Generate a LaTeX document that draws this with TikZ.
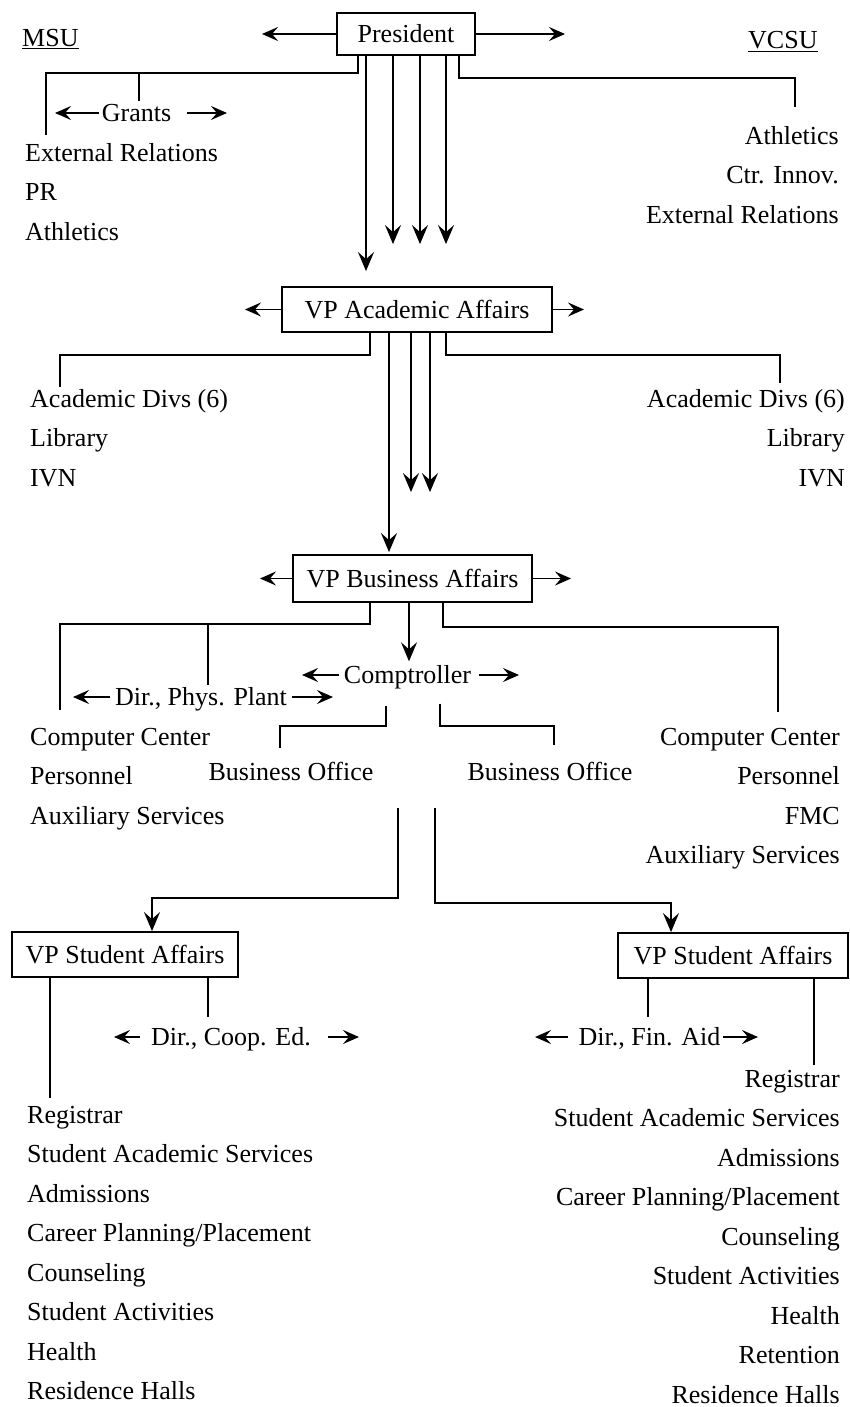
\documentclass[tikz,border=0pt]{standalone}
\usepackage{fontspec}
\setmainfont{Liberation Serif}
\usepackage{tikz}
\usetikzlibrary{arrows.meta}
\usetikzlibrary{positioning}
\tikzstyle{box} = [
    draw=black,
    line width=1.8pt,
    inner sep=0pt,
    text height=18pt,
    text depth=1pt,
    font=\fontsize{26}{30}\selectfont
]
\tikzstyle{unit} = [
    inner sep=2pt, % keeps the side arrows close to the words
    text height=18pt,
    text depth=1pt,
    font=\fontsize{26}{30}\selectfont
]
\tikzstyle{listL} = [
    inner sep=0pt,
    align=left,
    font=\fontsize{26}{39.5}\selectfont
]
\tikzstyle{listR} = [
    inner sep=0pt,
    align=right,
    font=\fontsize{26}{39.5}\selectfont
]
\tikzstyle{conn} = [line width=1.9pt]
\tikzstyle{arrowdown} = [
    line width=1.9pt,
    -{Stealth[length=19pt, width=16pt, inset=7pt]}
]
\tikzstyle{arrowside} = [
    line width=1.9pt,
    -{Stealth[length=16pt, width=14pt, inset=6pt]}
]

\begin{document}
\begin{tikzpicture}[x=1pt, y=-1pt]
\useasboundingbox (0,0) rectangle (850,1407);

% boxes
\node [box, minimum width=138pt, minimum height=42pt] (pres) at (406,34) {President};
\node [box, minimum width=270pt, minimum height=45pt] (vpaa) at (417,309.5) {VP Academic Affairs};
\node [box, minimum width=239pt, minimum height=47pt] (vpba) at (412.5,578.5) {VP Business Affairs};
\node [box, minimum width=226pt, minimum height=45pt] (vpsaL) at (125,954.5) {VP Student Affairs};
\node [box, minimum width=230pt, minimum height=45pt] (vpsaR) at (733,955.5) {VP Student Affairs};

% headings and small units
\node [unit, anchor=base west] (msu) at (20,47) {\underline{MSU}};
\node [unit, anchor=base west] (vcsu) at (746,49) {\underline{VCSU}};
\node [unit] (grants) at (136.5,113) {Grants};
\node [unit] (comp) at (407.5,675) {Comptroller};
\node [unit] (phys) at (201,697) {Dir., Phys. Plant};
\node [unit] (boMsu) at (291,772) {Business Office};
\node [unit] (boVcsu) at (550,772) {Business Office};
\node [unit] (coop) at (231,1037) {Dir., Coop. Ed.};
\node [unit] (finaid) at (649.5,1037) {Dir., Fin. Aid};

% lists
\node [listL, anchor=north west] (msuList) at (25,143)
    {External Relations\\PR\\Athletics};
\node [listR, anchor=north east] (vcsuList) at (839,126)
    {Athletics\\Ctr. Innov.\\External Relations};
\node [listL, anchor=north west] (acadMsu) at (30,389)
    {Academic Divs (6)\\Library\\IVN};
\node [listR, anchor=north east] (acadVcsu) at (845,389)
    {Academic Divs (6)\\Library\\IVN};
\node [listL, anchor=north west] (busMsu) at (30,728)
    {Computer Center\\Personnel\\Auxiliary Services};
\node [listR, anchor=north east] (busVcsu) at (840,728)
    {Computer Center\\Personnel\\FMC\\Auxiliary Services};
\node [listL, anchor=north west] (stuMsu) at (27,1106)
    {Registrar\\Student Academic Services\\Admissions\\Career Planning/Placement\\Counseling\\Student Activities\\Health\\Residence Halls};
\node [listR, anchor=north east] (stuVcsu) at (840,1070)
    {Registrar\\Student Academic Services\\Admissions\\Career Planning/Placement\\Counseling\\Student Activities\\Health\\Retention\\Residence Halls};

% free ends
\coordinate (presL) at (262,34);
\coordinate (presR) at (565,34);
\coordinate (msuEnd) at (46,135);
\coordinate (vcsuEnd) at (795,107);
\coordinate (grantsTop) at (139,72);
\coordinate (grantsL) at (55,113);
\coordinate (grantsR) at (227,113);
\coordinate (vpaaL) at (245,309.5);
\coordinate (vpaaR) at (584,309.5);
\coordinate (acadMsuEnd) at (60,387);
\coordinate (acadVcsuEnd) at (780,383);
\coordinate (vpbaL) at (260,578.5);
\coordinate (vpbaR) at (571,578.5);
\coordinate (busMsuEnd) at (60,710);
\coordinate (busVcsuEnd) at (778,712);
\coordinate (physTop) at (208,623);
\coordinate (physL) at (73,697);
\coordinate (physR) at (333,697);
\coordinate (compL) at (302,675);
\coordinate (compR) at (519,675);
\coordinate (boMsuEnd) at (280,748);
\coordinate (boVcsuEnd) at (554,745);
\coordinate (boMsuDown) at (398,808);
\coordinate (boVcsuDown) at (435,808);
\coordinate (stuMsuEnd) at (50,1098);
\coordinate (stuVcsuEnd) at (814,1065);
\coordinate (coopTop) at (208,1017);
\coordinate (finTop) at (648,1017);
\coordinate (coopL) at (114,1037);
\coordinate (coopR) at (359,1037);
\coordinate (finL) at (535,1037);
\coordinate (finR) at (758,1037);

% President
\draw [arrowside] (pres.west) -- (presL);
\draw [arrowside] (pres.east) -- (presR);
\draw [conn] ([xshift=-48pt]pres.south) -- ++(0,17) -| (msuEnd);
\draw [conn] (grantsTop) -- (grants.north -| grantsTop);
\draw [conn] ([xshift=53pt]pres.south) -- ++(0,22) -| (vcsuEnd);
\draw [arrowside] ([xshift=-1pt]grants.west) -- (grantsL);
\draw [arrowside] ([xshift=14pt]grants.east) -- (grantsR);
\foreach \dx/\cut in {-40/15, -13/42, 14/42, 40/42}
    \draw [arrowdown, shorten >=\cut pt] ([xshift=\dx pt]pres.south) -- ([xshift=\dx pt]pres.south |- vpaa.north);

% VP Academic Affairs
\draw [arrowside] (vpaa.west) -- (vpaaL);
\draw [arrowside] (vpaa.east) -- (vpaaR);
\draw [conn] ([xshift=-47pt]vpaa.south) -- ++(0,22) -| (acadMsuEnd);
\draw [conn] ([xshift=29pt]vpaa.south) -- ++(0,22) -| (acadVcsuEnd);
\foreach \dx/\cut in {-28/2, -6/62, 13/62}
    \draw [arrowdown, shorten >=\cut pt] ([xshift=\dx pt]vpaa.south) -- ([xshift=\dx pt]vpaa.south |- vpba.north);

% VP Business Affairs
\draw [arrowside] (vpba.west) -- (vpbaL);
\draw [arrowside] (vpba.east) -- (vpbaR);
\draw [conn] ([xshift=-42.5pt]vpba.south) -- ++(0,21) -| (busMsuEnd);
\draw [conn] (physTop) -- (phys.north -| physTop);
\draw [conn] ([xshift=30.5pt]vpba.south) -- ++(0,24) -| (busVcsuEnd);
\draw [arrowdown, shorten >=2pt] ([xshift=-3.5pt]vpba.south) -- ([xshift=-3.5pt]vpba.south |- comp.north);
\draw [arrowside] ([xshift=-3pt]comp.west) -- (compL);
\draw [arrowside] ([xshift=6pt]comp.east) -- (compR);
\draw [arrowside] ([xshift=-3pt]phys.west) -- (physL);
\draw [arrowside] ([xshift=3pt]phys.east) -- (physR);
\draw [conn] ([xshift=-21.5pt,yshift=-19pt]comp.south) -- ++(0,20) -| (boMsuEnd);
\draw [conn] ([xshift=32.5pt,yshift=-17pt]comp.south) -- ++(0,22) -| (boVcsuEnd);

% down to VP Student Affairs
\draw [arrowdown] (boMsuDown) -- ++(0,90) -| ([xshift=27pt]vpsaL.north);
\draw [arrowdown] (boVcsuDown) -- ++(0,95) -| ([xshift=-62pt]vpsaR.north);

% VP Student Affairs
\draw [conn] ([xshift=-75pt]vpsaL.south) -- (stuMsuEnd);
\draw [conn] ([xshift=83pt]vpsaL.south) -- (coopTop);
\draw [conn] ([xshift=-85pt]vpsaR.south) -- (finTop);
\draw [conn] ([xshift=81pt]vpsaR.south) -- (stuVcsuEnd);
\draw [arrowside] ([xshift=-9pt]coop.west) -- (coopL);
\draw [arrowside] ([xshift=15pt]coop.east) -- (coopR);
\draw [arrowside] ([xshift=-9pt]finaid.west) -- (finL);
\draw [arrowside] ([xshift=1pt]finaid.east) -- (finR);
\end{tikzpicture}
\end{document}
